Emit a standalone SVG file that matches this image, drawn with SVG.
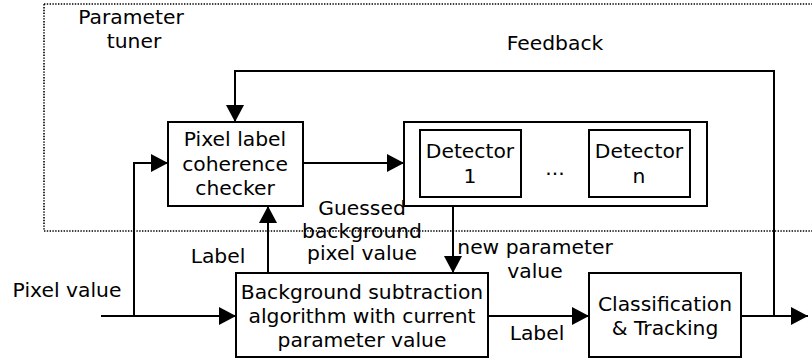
<svg xmlns="http://www.w3.org/2000/svg" width="812" height="360" viewBox="0 0 812 360">
<defs>
<style>
text{font-family:"DejaVu Sans",Verdana,sans-serif;font-size:20.3px;fill:#000;text-anchor:middle}
.box{fill:#fff;stroke:#000;stroke-width:2}
.ln{fill:none;stroke:#000;stroke-width:2}
.dot{fill:none;stroke:#000;stroke-width:1.6;stroke-dasharray:1.4,1.4}
</style>
<marker id="ah" viewBox="0 0 17 18" refX="17" refY="9" markerWidth="17" markerHeight="18" markerUnits="userSpaceOnUse" orient="auto">
<path d="M0,0 L17,9 L0,18 Z" fill="#000"/>
</marker>
</defs>
<g id="tuner">
<rect class="dot" x="44" y="4" width="800" height="227"/>
<text x="131" y="24">Parameter</text>
<text x="134" y="48">tuner</text>
</g>
<g id="connectors">
<polyline class="ln" points="774,316 774,71 235,71 235,122" marker-end="url(#ah)"/>
<polyline class="ln" points="101,316 236,316" marker-end="url(#ah)"/>
<polyline class="ln" points="134,316 134,163 168,163" marker-end="url(#ah)"/>
<polyline class="ln" points="303,163 404,163" marker-end="url(#ah)"/>
<polyline class="ln" points="453,206 453,273" marker-end="url(#ah)"/>
<polyline class="ln" points="268,273 268,206" marker-end="url(#ah)"/>
<polyline class="ln" points="488,316 589,316" marker-end="url(#ah)"/>
<polyline class="ln" points="741,316 808,316" marker-end="url(#ah)"/>
<text x="555" y="50">Feedback</text>
<text x="67" y="297">Pixel value</text>
<text x="218" y="263">Label</text>
<text x="362" y="215">Guessed</text>
<text x="362" y="238">background</text>
<text x="362" y="260">pixel value</text>
<text x="535" y="254">new parameter</text>
<text x="535" y="278">value</text>
<text x="537" y="340">Label</text>
</g>
<g id="checker">
<rect class="box" x="168" y="122" width="135" height="84"/>
<text x="235" y="146">Pixel label</text>
<text x="235" y="171">coherence</text>
<text x="235" y="195">checker</text>
</g>
<g id="detectors">
<rect class="box" x="404" y="122" width="303" height="84"/>
<text x="555" y="175">...</text>
</g>
<g id="detector1">
<rect class="box" x="420" y="130" width="101" height="67"/>
<text x="470" y="158">Detector</text>
<text x="470" y="183">1</text>
</g>
<g id="detectorn">
<rect class="box" x="589" y="130" width="101" height="67"/>
<text x="639" y="158">Detector</text>
<text x="639" y="183">n</text>
</g>
<g id="bgsub">
<rect class="box" x="236" y="273" width="252" height="84"/>
<text x="362" y="299">Background subtraction</text>
<text x="362" y="323">algorithm with current</text>
<text x="362" y="347">parameter value</text>
</g>
<g id="classify">
<rect class="box" x="589" y="273" width="152" height="84"/>
<text x="665" y="311">Classification</text>
<text x="665" y="335">&amp; Tracking</text>
</g>
</svg>
